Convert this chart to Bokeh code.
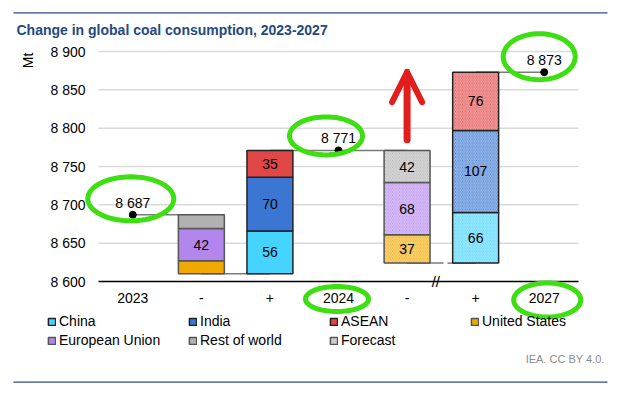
import math
from bokeh.plotting import figure
from bokeh.models import (ColumnDataSource, FixedTicker, Legend, LegendItem,
                          Range1d, PolyAnnotation, Arrow, OpenHead)
from bokeh.embed import file_html
from bokeh.resources import INLINE
from bokeh.core.properties import value

# ---------------- data ----------------
x_labels = ["2023", "-", "+", "2024", "-", "+", "2027"]
total_years = ["2023", "2024", "2027"]
total_values = [8687, 8771, 8873]
decrease_regions = ["Rest of world", "European Union", "United States"]   # top -> bottom
decrease_2023_2024 = [18, 42, 17]
decrease_2024_2027 = [42, 68, 37]
increase_regions = ["China", "India", "ASEAN"]                            # bottom -> top
increase_2023_2024 = [56, 70, 35]
increase_2024_2027 = [66, 107, 76]
y_ticks = [8600, 8650, 8700, 8750, 8800, 8850, 8900]
legend_order = ["China", "India", "ASEAN", "United States", "European Union", "Rest of world"]

# ---------------- style / layout ----------------
FONT = "Liberation Sans"
colors = {"China": "#45d3ff", "India": "#3b77d2", "ASEAN": "#e14747",
          "United States": "#f1a900", "European Union": "#b386ee", "Rest of world": "#b1b1b1"}
TITLE_BLUE = "#24497f"
RULE_BLUE = "#2a4d80"
GREEN = "#3ddf12"
RED = "#e21d1d"

W, H = 619, 394
PLOT_L, PLOT_R = 98, 578          # pixel extent of the category axis
Y_BASE_PX, Y_TOP_PX = 281, 51     # pixel positions of first / last y tick
n = len(x_labels)
ppx = (PLOT_R - PLOT_L) / n
ppy = (Y_BASE_PX - Y_TOP_PX) / (y_ticks[-1] - y_ticks[0])
X0 = -0.5 - PLOT_L / ppx
X1 = n - 0.5 + (W - PLOT_R) / ppx
Y0 = y_ticks[0] - (H - Y_BASE_PX) / ppy
Y1 = y_ticks[0] + Y_BASE_PX / ppy


def dx(px):
    return X0 + px / ppx


def dy(py):
    return Y0 + (H - py) / ppy


p = figure(width=W, height=H, x_range=Range1d(X0, X1), y_range=Range1d(Y0, Y1),
           output_backend="svg", toolbar_location=None,
           min_border_left=0, min_border_right=0, min_border_top=0, min_border_bottom=0)
p.outline_line_color = None
p.background_fill_color = "white"
p.border_fill_color = "white"

# axes (drawn at fixed locations inside the frame)
p.xaxis.fixed_location = y_ticks[0]
p.xaxis.bounds = (-0.5, n - 0.5)
p.xaxis.ticker = FixedTicker(ticks=list(range(n)))
p.xaxis.major_label_overrides = {i: lab for i, lab in enumerate(x_labels)}
p.xaxis.axis_line_color = "black"
p.xaxis.axis_line_width = 1.5
p.xaxis.major_tick_line_color = None
p.xaxis.minor_tick_line_color = None
p.xaxis.major_tick_out = 0
p.xaxis.major_tick_in = 0
p.xaxis.major_label_standoff = 11
p.xaxis.major_label_text_font = FONT
p.xaxis.major_label_text_font_size = "14px"
p.xaxis.major_label_text_color = "black"

p.yaxis.fixed_location = -0.5
p.yaxis.ticker = FixedTicker(ticks=y_ticks)
p.yaxis.major_label_overrides = {t: f"{t:,}".replace(",", " ") for t in y_ticks}
p.yaxis.axis_line_color = None
p.yaxis.major_tick_line_color = None
p.yaxis.minor_tick_line_color = None
p.yaxis.major_tick_out = 0
p.yaxis.major_tick_in = 0
p.yaxis.major_label_standoff = 13
p.yaxis.major_label_text_font = FONT
p.yaxis.major_label_text_font_size = "14px"
p.yaxis.major_label_text_color = "black"

p.xgrid.grid_line_color = None
p.ygrid.grid_line_color = None
grid_y = y_ticks[1:]
p.segment(x0=[-0.5] * len(grid_y), x1=[n - 0.5] * len(grid_y), y0=grid_y, y1=grid_y,
          line_color="#d9d9d9", line_width=1.5)

# ---------------- waterfall segments ----------------
total_x = [x_labels.index(y) for y in total_years]
segs = {r: dict(x=[], top=[], bottom=[], hatch=[], line=[]) for r in legend_order}
labels = dict(x=[], y=[], text=[])
bases = []
periods = [(1, 2, 0, decrease_2023_2024, increase_2023_2024, False),
           (4, 5, 1, decrease_2024_2027, increase_2024_2027, True)]
for dec_x, inc_x, ti, dec_vals, inc_vals, forecast in periods:
    level = total_values[ti]
    for r, v in zip(decrease_regions, dec_vals):
        s = segs[r]
        s["x"].append(dec_x); s["top"].append(level); s["bottom"].append(level - v)
        s["hatch"].append("\\" if forecast else " "); s["line"].append("#555555")
        if v >= 25:
            labels["x"].append(dec_x); labels["y"].append(level - v / 2); labels["text"].append(str(v))
        level -= v
    bases.append(level)
    for r, v in zip(increase_regions, inc_vals):
        s = segs[r]
        s["x"].append(inc_x); s["top"].append(level + v); s["bottom"].append(level)
        s["hatch"].append("\\" if forecast else " "); s["line"].append("#222222")
        if v >= 25:
            labels["x"].append(inc_x); labels["y"].append(level + v / 2); labels["text"].append(str(v))
        level += v

# connectors
gap_a, gap_b = 4.53, 4.59
cx0 = [total_x[0], 1, 2, 4, gap_b, 5]
cx1 = [1, 2, total_x[1] + 1, gap_a, 5, total_x[2]]
cy = [total_values[0], bases[0], total_values[1], bases[1], bases[1], total_values[2]]
p.segment(x0=cx0, x1=cx1, y0=cy, y1=cy, line_color="#7a7a7a", line_width=1.5)

renderers = {}
for r in legend_order:
    src = ColumnDataSource(segs[r])
    renderers[r] = p.vbar(x="x", top="top", bottom="bottom", width=0.67, source=src,
                          fill_color=colors[r], line_color="line", line_width=1.5,
                          hatch_pattern="hatch", hatch_color="white", hatch_alpha=0.5,
                          hatch_scale=3.5, hatch_weight=1.2)

p.text(x="x", y="y", text="text", source=ColumnDataSource(labels),
       text_align="center", text_baseline="middle", text_font=value(FONT),
       text_font_size="14px", text_color="black")

# totals
p.scatter(x=total_x, y=total_values, size=7, color="black")
p.text(x=total_x, y=total_values, text=[f"{v:,}".replace(",", " ") for v in total_values],
       text_align="center", text_baseline="alphabetic", y_offset=-12,
       text_font=value(FONT), text_font_size="14px", text_color="black")

# axis break mark
p.text(x=[4.42], y=[y_ticks[0]], text=["//"], text_align="center", text_baseline="middle",
       text_font=value(FONT), text_font_size="15px", text_color="black")

# legend (Forecast swatch uses the hatched Rest-of-world segment)
items = [LegendItem(label=r, renderers=[renderers[r]], index=0) for r in legend_order]
items.append(LegendItem(label="Forecast", renderers=[renderers["Rest of world"]], index=1))
legend = Legend(items=items, location=(47, 46), orientation="horizontal", ncols=4,
                glyph_width=9, glyph_height=9, label_standoff=3, label_width=126,
                label_height=16, spacing=3, padding=0, margin=0,
                label_text_font=FONT, label_text_font_size="14px", label_text_color="black",
                border_line_color=None, background_fill_alpha=0)
p.add_layout(legend)

# title, unit, credit
p.text(x=[dx(16)], y=[dy(29)], text=["Change in global coal consumption, 2023-2027"],
       text_font=value(FONT), text_font_size="14px", text_font_style="bold",
       text_color=TITLE_BLUE, text_baseline="alphabetic", text_align="left")
p.text(x=[dx(27)], y=[dy(60)], text=["Mt"], angle=math.pi / 2, text_align="center",
       text_baseline="middle", text_font=value(FONT), text_font_size="14px",
       text_color="black")
p.text(x=[dx(604)], y=[dy(358)], text=["IEA. CC BY 4.0."], text_align="right",
       text_baseline="middle", text_font=value(FONT), text_font_size="11px",
       text_color="#8c8c8c")
for py in (12.3, 381.7):
    p.segment(x0=[dx(13)], x1=[dx(607)], y0=[dy(py)], y1=[dy(py)],
              line_color=RULE_BLUE, line_width=1.3)


# hand-drawn highlights
def ellipse(cx, cy, ox, oy, w, h):
    m = 72
    xs = [cx + (ox + w / 2 * math.cos(2 * math.pi * k / m)) / ppx for k in range(m)]
    ys = [cy + (oy + h / 2 * math.sin(2 * math.pi * k / m)) / ppy for k in range(m)]
    return PolyAnnotation(xs=xs, ys=ys, xs_units="data", ys_units="data", fill_alpha=0,
                          line_color=GREEN, line_alpha=1, line_width=5, line_join="round")


p.add_layout(ellipse(total_x[0], total_values[0], -2, 16, 86, 44))
p.add_layout(ellipse(total_x[1], total_values[1], -12.5, 14.5, 73, 38))
p.add_layout(ellipse(total_x[2], total_values[2], -5, 15.5, 72, 46))
p.add_layout(ellipse(total_x[1], y_ticks[0], -1.5, -17.5, 63, 25))
p.add_layout(ellipse(total_x[2], y_ticks[0], 3, -18.5, 67, 34))

p.add_layout(Arrow(end=OpenHead(size=30, line_color=RED, line_width=6, line_cap="round",
                                line_join="round"),
                   x_start=4, y_start=total_values[1] + 14, x_end=4, y_end=total_values[2],
                   line_color=RED, line_width=7, line_cap="round"))

open("out.html", "w").write(file_html(p, INLINE))
